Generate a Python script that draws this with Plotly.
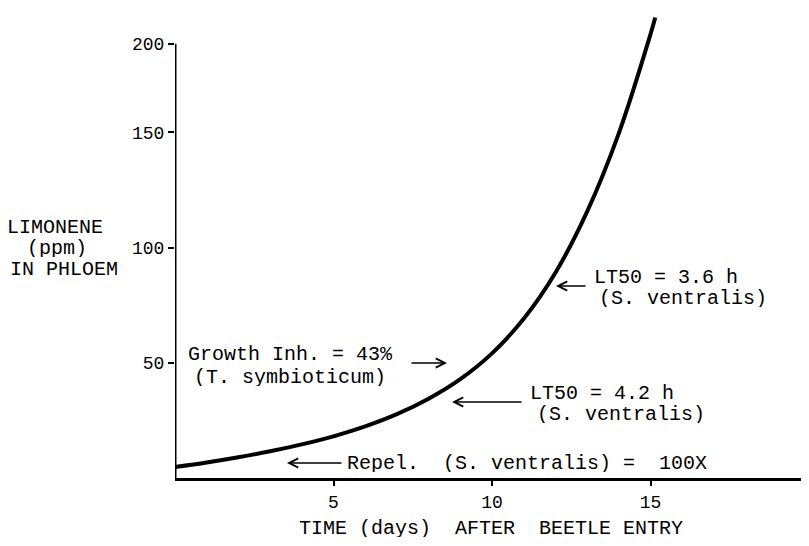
import plotly.graph_objects as go

# ---- data ----
days = [0, 1, 2, 3, 4, 5, 6, 7, 8, 9, 10, 11, 12, 13, 14, 15, 15.15]
limonene_ppm = [4.8, 6.75, 9.0, 11.6, 14.6, 18.1, 22.4, 27.7, 34.4, 42.9, 54.1, 69.1, 89.1, 115.6, 149.6, 192.6, 199.9]

x_tick_vals = [5, 10, 15]
x_tick_text = ["5", "10", "15"]
y_tick_vals = [50, 100, 150, 188.5]
y_tick_text = ["50", "100", "150", "200"]
y_axis_top = 188.5

FONT = "Liberation Mono"
NB = "\u00a0"

# page body has an 8px margin: figure is sized so the page matches 809x546
W, H = 801, 538
ML, MT, MB = 167, 0, 68
PW = W - ML           # 634 px plot width
PH = H - MT - MB      # 470 px plot height

fig = go.Figure()
fig.add_trace(go.Scatter(
    x=days, y=limonene_ppm, mode="lines",
    line=dict(color="black", width=4, shape="spline", smoothing=1.0),
    cliponaxis=False, showlegend=False, hoverinfo="skip"))

# y axis line (ends at the "200" tick as drawn)
fig.add_shape(type="line", xref="x", yref="y", x0=0, x1=0, y0=0, y1=y_axis_top,
              line=dict(color="black", width=3))

def px_to_paper(px, py):
    # px, py in page pixels of the reference (plot origin at 175, 478)
    return (px - 175) / PW, (478 - py) / PH

def txt(px, py, s, size=20, xanchor="left", h=18):
    x, y = px_to_paper(px, py)
    fig.add_annotation(x=x, y=y, xref="paper", yref="paper", text=s.replace(" ", NB),
                       showarrow=False, xanchor=xanchor, yanchor="middle", height=h,
                       font=dict(family=FONT, size=size, color="black"))

def arrow(px_head, px_tail, py):
    xh, y = px_to_paper(px_head, py)
    fig.add_annotation(x=xh, y=y, xref="paper", yref="paper",
                       ax=px_tail - px_head, ay=0, axref="pixel", ayref="pixel",
                       text="", showarrow=True,
                       arrowhead=5, arrowsize=1.3, arrowwidth=1.4, arrowcolor="black")

# annotations
txt(186, 354, "Growth Inh. = 43%")
txt(192, 377, "(T. symbioticum)")
arrow(447, 410, 363)

txt(528, 393, "LT50 = 4.2 h")
txt(535, 414, "(S. ventralis)")
arrow(452, 523, 402)

txt(592, 277, "LT50 = 3.6 h")
txt(597, 298, "(S. ventralis)")
arrow(556, 587, 286)

txt(345, 463, "Repel.  (S. ventralis) =  100X")
arrow(287, 343, 463)

# axis titles
txt(5, 227, "LIMONENE")
txt(25, 248, "(ppm)")
txt(8, 269, "IN PHLOEM")
txt(491, 528, "TIME (days)  AFTER  BEETLE ENTRY", xanchor="center")

fig.update_layout(
    width=W, height=H, autosize=False,
    margin=dict(l=ML, r=0, t=MT, b=MB, pad=0),
    paper_bgcolor="white", plot_bgcolor="white",
    font=dict(family=FONT, color="black"),
    xaxis=dict(range=[0, 20], showline=True, linewidth=3, linecolor="black",
               ticks="outside", ticklen=5, tickwidth=2, tickcolor="black",
               tickvals=x_tick_vals, ticktext=x_tick_text,
               tickfont=dict(family=FONT, size=18, color="black"),
               showgrid=False, zeroline=False),
    yaxis=dict(range=[0, 470 / 2.304], showline=False,
               ticks="outside", ticklen=6, tickwidth=2, tickcolor="black",
               tickvals=y_tick_vals, ticktext=y_tick_text,
               tickfont=dict(family=FONT, size=18, color="black"),
               showgrid=False, zeroline=False),
)

fig.write_html("out.html")
